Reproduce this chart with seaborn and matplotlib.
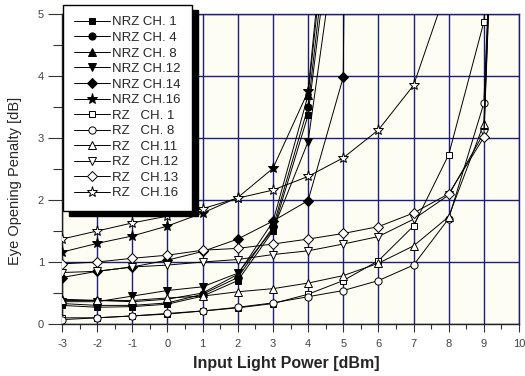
import matplotlib
matplotlib.use("Agg")
import matplotlib.pyplot as plt
import seaborn as sns
import pandas as pd

# ---------------- data ----------------
x_nrz = [-3, -2, -1, 0, 1, 2, 3, 4, 5]
x_nrz14 = [-3, -2, -1, 0, 1, 2, 3, 4, 5, 6]
x_rz = [-3, -2, -1, 0, 1, 2, 3, 4, 5, 6, 7, 8, 9, 10]
x_rz16 = [-3, -2, -1, 0, 1, 2, 3, 4, 5, 6, 7, 8]

nrz_ch1 = [0.30, 0.27, 0.28, 0.32, 0.45, 0.70, 1.50, 3.37, 8.0]
nrz_ch4 = [0.33, 0.30, 0.30, 0.34, 0.48, 0.75, 1.56, 3.50, 8.5]
nrz_ch8 = [0.40, 0.38, 0.36, 0.40, 0.50, 0.80, 1.65, 3.69, 9.0]
nrz_ch12 = [0.36, 0.36, 0.45, 0.54, 0.60, 0.82, 1.52, 2.94, 7.0]
nrz_ch14 = [0.75, 0.85, 0.92, 1.03, 1.17, 1.37, 1.66, 1.99, 3.98, 60.0]
nrz_ch16 = [1.16, 1.30, 1.42, 1.58, 1.79, 2.04, 2.51, 3.75, 9.5]

rz_ch1 = [0.10, 0.10, 0.13, 0.16, 0.21, 0.26, 0.33, 0.48, 0.70, 1.02, 1.58, 2.73, 4.87, 14.0]
rz_ch8 = [0.07, 0.10, 0.13, 0.17, 0.21, 0.27, 0.34, 0.44, 0.54, 0.70, 0.95, 1.70, 3.56, 17.0]
rz_ch11 = [0.38, 0.38, 0.38, 0.42, 0.45, 0.52, 0.57, 0.66, 0.78, 0.98, 1.26, 1.73, 3.23, 18.0]
rz_ch12 = [0.83, 0.85, 0.92, 0.95, 1.00, 1.04, 1.12, 1.18, 1.29, 1.41, 1.69, 2.08, 3.08, 18.0]
rz_ch13 = [0.97, 1.00, 1.06, 1.11, 1.19, 1.22, 1.29, 1.37, 1.46, 1.57, 1.79, 2.10, 3.01, 18.0]
rz_ch16 = [1.37, 1.50, 1.63, 1.74, 1.86, 2.03, 2.16, 2.38, 2.68, 3.13, 3.85, 5.5]

labels = ["NRZ CH. 1", "NRZ CH. 4", "NRZ CH. 8", "NRZ CH.12", "NRZ CH.14", "NRZ CH.16",
          "RZ   CH. 1", "RZ   CH. 8", "RZ   CH.11", "RZ   CH.12", "RZ   CH.13", "RZ   CH.16"]
xticks = list(range(-3, 11))
yticks = [0, 1, 2, 3, 4, 5]

series = [
    (x_nrz, nrz_ch1, "s", True),
    (x_nrz, nrz_ch4, "o", True),
    (x_nrz, nrz_ch8, "^", True),
    (x_nrz, nrz_ch12, "v", True),
    (x_nrz14, nrz_ch14, "D", True),
    (x_nrz, nrz_ch16, "*", True),
    (x_rz, rz_ch1, "s", False),
    (x_rz, rz_ch8, "o", False),
    (x_rz, rz_ch11, "^", False),
    (x_rz, rz_ch12, "v", False),
    (x_rz, rz_ch13, "D", False),
    (x_rz16, rz_ch16, "*", False),
]

# ---------------- style ----------------
sns.set_style("white")
plt.rcParams["font.family"] = ["Liberation Sans", "DejaVu Sans"]
plt.rcParams["axes.unicode_minus"] = False

W, H = 525, 376
fig = plt.figure(figsize=(W / 100, H / 100), dpi=100)
ax = fig.add_axes([62 / W, 1 - 324 / H, (519 - 62) / W, (324 - 14) / H])
ax.set_facecolor("#fdfdf4")

msize = {"s": 5.0, "o": 5.2, "^": 5.8, "v": 5.8, "D": 4.8, "*": 8.0}
for (xs, ys, mk, filled), lab in zip(series, labels):
    df = pd.DataFrame({"x": xs, "y": ys})
    sns.lineplot(data=df, x="x", y="y", ax=ax, color="black", lw=0.7,
                 marker=mk, markersize=msize[mk],
                 markerfacecolor="black" if filled else "white",
                 markeredgecolor="black", markeredgewidth=0.7,
                 label=lab, zorder=3)

ax.set_xlim(-3, 10)
ax.set_ylim(0, 5)
ax.set_xticks(xticks)
ax.set_yticks(yticks)
ax.set_xticks([v + 0.5 for v in xticks[:-1]], minor=True)
ax.set_yticks([v + 0.5 for v in yticks[:-1]], minor=True)
ax.grid(True, which="major", color="#1e1e7a", lw=1.0)
ax.set_axisbelow(True)

ax.tick_params(axis="x", which="major", direction="out", length=5.5, width=0.8,
               color="#333333", labelsize=8, labelcolor="#444444", pad=5, bottom=True)
ax.tick_params(axis="x", which="minor", direction="out", length=3.5, width=0.8,
               color="#333333", bottom=True)
ax.tick_params(axis="y", which="major", direction="out", length=10, width=0.8,
               color="#333333", labelsize=8, labelcolor="#444444", pad=3, left=True)
ax.tick_params(axis="y", which="minor", direction="out", length=6.5, width=0.8,
               color="#333333", left=True)

for side in ["left", "bottom"]:
    ax.spines[side].set_color("#222222")
    ax.spines[side].set_linewidth(1.0)
for side in ["top", "right"]:
    ax.spines[side].set_color("#1e1e7a")
    ax.spines[side].set_linewidth(1.0)

ax.set_xlabel("Input Light Power [dBm]", fontsize=11.5, fontweight="bold")
ax.xaxis.set_label_coords((286 - 62) / 457, -(356 - 324) / 310)
ax.set_ylabel("Eye Opening Penalty [dB]", fontsize=10.5)
ax.yaxis.set_label_coords((22 - 62) / 457, (324 - 181) / 310)

leg = ax.legend(loc="upper left", bbox_to_anchor=(63 / W, 1 - 5 / H),
                bbox_transform=fig.transFigure, borderaxespad=0,
                frameon=True, fancybox=False, edgecolor="black", framealpha=1,
                fontsize=9.5, handlelength=2.7, handletextpad=0.2,
                labelspacing=0.25, borderpad=0.85,
                shadow={"ox": 4.3, "oy": -3.6, "color": "black", "alpha": 1})
leg.get_frame().set_linewidth(1.0)
leg.set_zorder(10)

fig.savefig("out.png", dpi=100)
